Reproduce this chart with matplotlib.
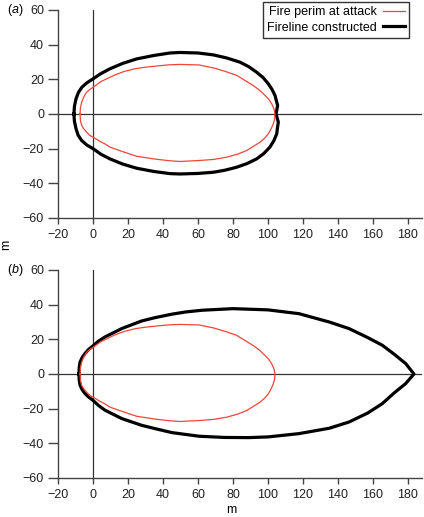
import matplotlib
matplotlib.use('Agg')
import matplotlib.pyplot as plt

plt.rcParams['font.family'] = ['Liberation Sans', 'DejaVu Sans']
plt.rcParams['mathtext.fontset'] = 'custom'
plt.rcParams['mathtext.rm'] = 'Liberation Sans'
plt.rcParams['mathtext.it'] = 'Liberation Sans:italic'

# fire perimeter at time of attack (same in both panels), metres
perim_x = [-7.4, -7.2, -6.5, -5.3, -3.6, -1.8, 0.2, 4.5, 9.7, 12.6, 18, 24.4, 30, 35.4, 44, 50, 60.6, 68.8,
           75.5, 82.1, 91.6, 95.2, 98.3, 100.4, 102.1, 103.4, 104,
           103.8, 103, 101.8, 100.2, 98, 95.4, 87.8, 82.5, 76.4, 69, 61.1, 49.7, 44, 35.4, 25, 16.4, 9.7, 6.9,
           3.5, 0.2, -1.8, -3.6, -5.3, -6.5, -7.2, -7.4]
perim_y = [0, 3.5, 6.8, 9.8, 12.6, 14.2, 15.5, 18.7, 21.2, 22.6, 24.6, 26.2, 27, 27.6, 28.4, 28.6, 28.3, 26.6,
           24.6, 22.3, 16.4, 13.7, 10.7, 8.5, 5.9, 3, 0,
           -2.8, -5.7, -8.5, -11.4, -14, -16.3, -21.1, -23.2, -24.9, -26.2, -26.8, -27.4, -27, -26, -24.4, -21.5,
           -19.1, -17.3, -15.5, -13.4, -12.4, -10.5, -8.5, -6.6, -3.5, 0]

# (a) fireline constructed
line_a_x = [-10.9, -10.6, -9.7, -8.3, -6.3, -3.5, 0.2, 4.5, 9.7, 17, 25, 35, 44, 49.7, 60, 68.8, 76.5, 84,
            89, 93.5, 97.2, 100.2, 102.3, 104, 105.5, 104.6,
            105.9, 105.4, 105, 103.3, 101.1, 97.6, 93.5, 88, 82.1, 75.5, 68.8, 60, 49.7, 44, 35, 25, 17, 9.7,
            4.5, 0.2, -3.5, -6.5, -8.5, -9.7, -10.6, -10.9]
line_a_y = [0, 4.5, 8.8, 12.5, 15.5, 18, 20.4, 23.3, 26.1, 29.2, 31.8, 33.8, 35.2, 35.5, 35.2, 34.1, 32.3, 29.9,
            27.3, 24.1, 21, 17.4, 14.2, 10.7, 4.9, 0,
            -4.7, -8, -11.4, -15.5, -19.1, -22.8, -25.9, -28.6, -30.7, -32.4, -33.6, -34.3, -34.6, -34.4, -33.2,
            -31.3, -28.9, -25.9, -23.2, -20.1, -17.9, -15.3, -12.2, -8.5, -4.3, 0]

# (b) fireline constructed
line_b_x = [-8, -7.9, -7.4, -6.2, -4.6, -2.5, 0, 3.2, 6.9, 16.4, 27.8, 35.4, 45, 53, 62.5, 80, 100, 117.7, 135,
            146.3, 157, 165.3, 172, 178.7, 183.4, 178.7, 172, 165.3, 157, 146.3, 135, 117.7, 100, 89, 75, 60.6,
            45, 35.4, 27.8, 16.4, 6.9, 3.2, 0, -2.5, -4.6, -6.2, -7.4, -7.9, -8]
line_b_y = [0, 3.5, 6.9, 9.5, 11.8, 14.2, 16.2, 19, 21.4, 26.2, 30.6, 32.5, 34.5, 35.8, 36.8, 37.7, 37, 34.8, 30,
            26.2, 21, 16.6, 11.5, 6, 0, -5.5, -11, -17.1, -22.5, -27.7, -31.3, -34.4, -36.3, -36.7, -36.6,
            -35.9, -33.8, -31.5, -29.6, -25.7, -20.9, -18.2, -15.2, -13.3, -11.3, -9, -6.5, -3.3, 0]

xticks = [-20, 0, 20, 40, 60, 80, 100, 120, 140, 160, 180]
yticks = [-60, -40, -20, 0, 20, 40, 60]

W, H = 424, 517
fig = plt.figure(figsize=(W / 100, H / 100), dpi=100)

ax_a = fig.add_axes([58 / W, 1 - 218 / H, 364 / W, 208 / H])
ax_b = fig.add_axes([58 / W, 1 - 478 / H, 364 / W, 208 / H])

spine_col = '#444444'
red = '#ef4638'

for ax, bx, by in [(ax_a, line_a_x, line_a_y), (ax_b, line_b_x, line_b_y)]:
    ax.axhline(0, color='#333333', lw=0.9, zorder=1)
    ax.axvline(0, color='#333333', lw=0.9, zorder=1)
    ax.plot(perim_x, perim_y, color=red, lw=0.9, zorder=3, solid_joinstyle='round',
            label='Fire perim at attack')
    ax.plot(bx, by, color='black', lw=2.3, zorder=2, solid_joinstyle='round',
            label='Fireline constructed')
    ax.set_xlim(-20, 188)
    ax.set_ylim(-60, 60)
    ax.set_xticks(xticks)
    ax.set_yticks(yticks)
    for s in ['top', 'right']:
        ax.spines[s].set_visible(False)
    for s in ['left', 'bottom']:
        ax.spines[s].set_color(spine_col)
        ax.spines[s].set_linewidth(1.0)
    ax.tick_params(axis='y', direction='out', length=7, width=1.0, color=spine_col,
                   labelsize=9, pad=3, labelcolor='#222222')
    ax.tick_params(axis='x', direction='out', length=4, width=1.0, color=spine_col,
                   labelsize=9, pad=4, labelcolor='#222222')

# legend sits over the top-right corner of panel (a)
handles, labels = ax_a.get_legend_handles_labels()
leg = ax_a.legend(handles, labels, loc='upper right', bbox_to_anchor=(409 / W, 1 - 1.5 / H),
                  bbox_transform=fig.transFigure, markerfirst=False, fontsize=9,
                  fancybox=False, framealpha=1, edgecolor='#333333', borderaxespad=0,
                  handlelength=1.7, handletextpad=0.5, borderpad=0.35, labelspacing=0.3)
leg.get_frame().set_linewidth(1.0)

fig.text(7 / W, 1 - 10 / H, r'($\it{a}$)', fontsize=9, va='center', ha='left')
fig.text(7 / W, 1 - 270 / H, r'($\it{b}$)', fontsize=9, va='center', ha='left')

fig.text(6 / W, 1 - 245 / H, 'm', fontsize=9, rotation=90, va='center', ha='center')
fig.text(231 / W, 1 - 510 / H, 'm', fontsize=9, va='center', ha='center')

fig.savefig('out.png', dpi=100)
